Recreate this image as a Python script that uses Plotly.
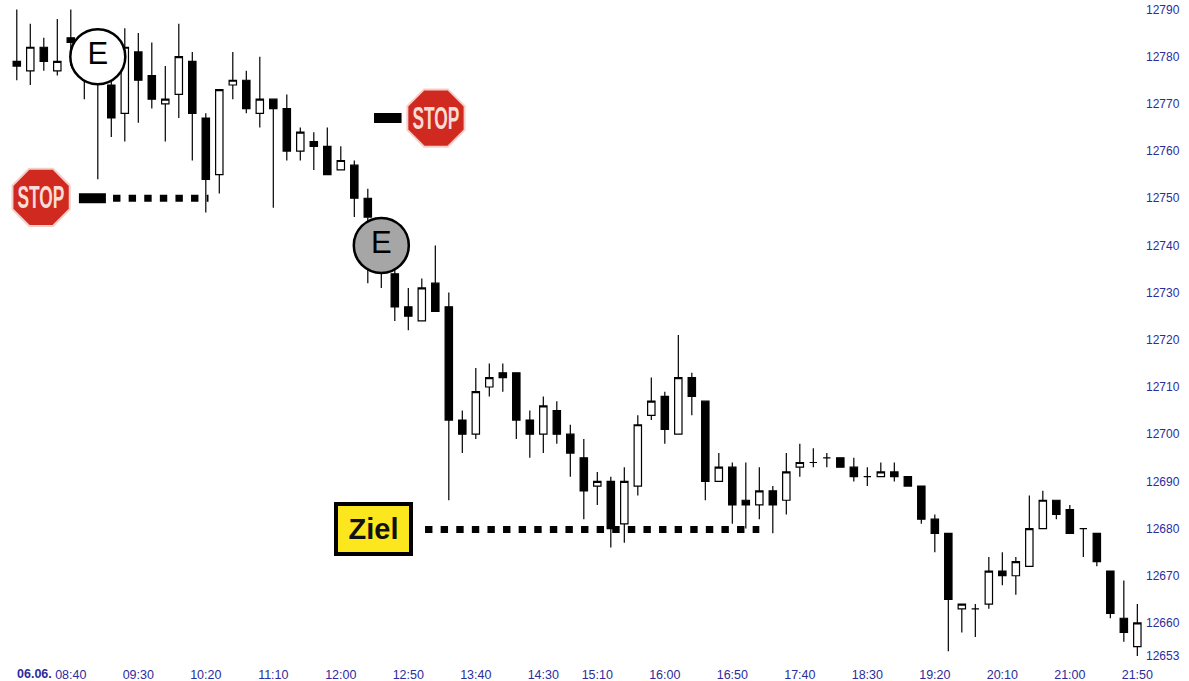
import plotly.graph_objects as go

bars = list(range(84))
opens = [12779,12777,12782,12777,12784,12783,12780,12774,12768,12781,12776,12770,12772,12779,12767,12755,12774,12775,12768,12771,
         12769,12760,12762,12761,12756,12757,12750,12745,12734,12727,12724,12732,12727,12703,12700,12710,12713,12713,12703,12700,
         12705,12700,12695,12689,12690,12681,12689,12704,12708,12700,12712,12707,12690,12693,12686,12685,12688,12686,12693,12694,
         12695,12695,12693,12691,12691,12692,12691,12689,12682,12679,12663,12663,12664,12671,12670,12672,12680,12686,12684,12680,
         12679,12671,12661,12655]
highs = [12790,12787,12784,12788,12790,12785,12785,12778,12786,12785,12783,12778,12787,12781,12768,12773,12781,12777,12780,12771,
         12772,12765,12764,12765,12761,12758,12752,12746,12736,12731,12733,12740,12730,12705,12714,12715,12715,12713,12705,12708,
         12707,12702,12699,12692,12691,12693,12704,12712,12709,12721,12713,12707,12696,12694,12694,12693,12689,12696,12698,12697,
         12696,12695,12695,12693,12694,12694,12691,12689,12683,12679,12664,12664,12674,12675,12674,12687,12688,12686,12685,12680,
         12679,12671,12669,12664]
lows = [12775,12774,12777,12776,12778,12771,12754,12763,12762,12766,12769,12762,12767,12758,12747,12751,12771,12768,12765,12748,
        12758,12758,12756,12755,12756,12746,12732,12731,12724,12722,12724,12726,12686,12696,12699,12708,12709,12699,12695,12696,
        12698,12691,12682,12685,12676,12677,12687,12703,12698,12700,12704,12686,12690,12681,12680,12682,12679,12683,12691,12693,
        12693,12693,12690,12689,12691,12690,12689,12681,12675,12654,12658,12657,12663,12668,12666,12672,12680,12682,12679,12674,
        12672,12661,12656,12653]
closes = [12778,12782,12779,12779,12783,12778,12775,12767,12782,12775,12771,12771,12780,12768,12754,12773,12775,12769,12771,12769,
          12760,12764,12761,12755,12758,12750,12746,12738,12727,12725,12731,12726,12703,12700,12709,12712,12712,12703,12700,12706,
          12700,12696,12688,12690,12680,12690,12702,12707,12701,12712,12708,12690,12693,12685,12685,12688,12685,12692,12694,12694,
          12695,12693,12691,12691,12692,12691,12689,12682,12679,12665,12664,12663,12671,12670,12673,12680,12686,12683,12679,12680,
          12673,12662,12658,12660]

x_tick_pos = [4, 9, 14, 19, 24, 29, 34, 39, 43, 48, 53, 58, 63, 68, 73, 78, 83]
x_tick_text = ["08:40", "09:30", "10:20", "11:10", "12:00", "12:50", "13:40", "14:30", "15:10",
               "16:00", "16:50", "17:40", "18:30", "19:20", "20:10", "21:00", "21:50"]
y_ticks = [12790, 12780, 12770, 12760, 12750, 12740, 12730, 12720, 12710, 12700,
           12690, 12680, 12670, 12660, 12653]

stop_level_1, stop_level_2, target_level = 12750, 12767, 12679.8
entry_x, entry_y = [6.0, 27.0], [12780, 12740]
stop_x, stop_y = [1.8, 31.05], [12750.2, 12767]

TICK = "#2c2c9c"
FONT = "Liberation Sans, Arial, sans-serif"

fig = go.Figure()
fig.add_trace(go.Candlestick(
    x=bars, open=opens, high=highs, low=lows, close=closes,
    increasing=dict(line=dict(color="#000000", width=1.2), fillcolor="#ffffff"),
    decreasing=dict(line=dict(color="#000000", width=1.2), fillcolor="#000000"),
    whiskerwidth=0, showlegend=False))

# Stop / target level lines
fig.add_trace(go.Scatter(x=[4.6, 6.6], y=[stop_level_1] * 2, mode="lines",
                         line=dict(color="#000", width=10), showlegend=False))
fig.add_trace(go.Scatter(x=[7.13, 14.2], y=[stop_level_1] * 2, mode="lines",
                         line=dict(color="#000", width=7, dash="7.4px,8.2px"), showlegend=False))
fig.add_trace(go.Scatter(x=[26.46, 28.5], y=[stop_level_2] * 2, mode="lines",
                         line=dict(color="#000", width=10), showlegend=False))
fig.add_trace(go.Scatter(x=[30.24, 55.0], y=[target_level] * 2, mode="lines",
                         line=dict(color="#000", width=7, dash="7.4px,8.2px"), showlegend=False))

# Entry circles
fig.add_trace(go.Scatter(x=entry_x, y=entry_y, mode="markers+text", text=["E", "E"],
                         textposition="middle center",
                         textfont=dict(family=FONT, size=31, color="#000"),
                         marker=dict(symbol="circle", size=55, color=["#ffffff", "#a6a6a6"],
                                     line=dict(color="#000", width=2.5)),
                         showlegend=False))
# Stop signs
fig.add_trace(go.Scatter(x=stop_x, y=stop_y, mode="markers",
                         marker=dict(symbol="octagon", size=62, color="#d02a20",
                                     line=dict(color="#f4cfca", width=2)),
                         showlegend=False))

annotations = [
    dict(x=2.75, y=0, xref="x", yref="paper", xanchor="right", yanchor="top", yshift=-1,
         text="<b>06.06.</b>", showarrow=False, font=dict(family=FONT, size=12.5, color=TICK)),
    dict(x=26.42, y=target_level, yshift=1, xref="x", yref="y", text="<b>Ziel</b>", showarrow=False,
         width=71, height=46, borderpad=0, borderwidth=4, bordercolor="#000", bgcolor="#fce61e",
         font=dict(family=FONT, size=29, color="#111")),
]
for sx, sy in zip(stop_x, stop_y):
    annotations.append(dict(x=sx, y=sy, xref="x", yref="y", text="<b>STOP</b>", showarrow=False,
                            font=dict(family="Liberation Sans Narrow, " + FONT, size=31, color="#f9dcd6")))

fig.update_layout(
    width=1189, height=681,
    margin=dict(l=0, r=46, t=0, b=17),
    paper_bgcolor="#ffffff", plot_bgcolor="#ffffff",
    showlegend=False, boxgap=0.22,
    font=dict(family=FONT, size=12, color=TICK),
    annotations=annotations,
    xaxis=dict(range=[-1.244, 83.42], rangeslider=dict(visible=False), tickmode="array",
               tickvals=x_tick_pos, ticktext=x_tick_text, showgrid=False, zeroline=False,
               showline=False, ticks="", tickangle=0, ticklabelstandoff=1,
               tickfont=dict(family=FONT, size=12.5, color=TICK)),
    yaxis=dict(range=[12651.3, 12792.01], side="right", tickmode="array", tickvals=y_ticks,
               ticktext=[str(v) for v in y_ticks], showgrid=False, zeroline=False, showline=False,
               ticks="", ticklabelstandoff=2, tickfont=dict(family=FONT, size=12, color=TICK)),
)

fit_stop = """
document.body.style.margin = '0';
document.querySelectorAll('.annotation-text').forEach(function (t) {
  if (t.textContent === 'STOP') {
    t.setAttribute('textLength', '47');
    t.setAttribute('lengthAdjust', 'spacingAndGlyphs');
  }
});
"""
fig.write_html("out.html", post_script=fit_stop, config=dict(displayModeBar=False))
